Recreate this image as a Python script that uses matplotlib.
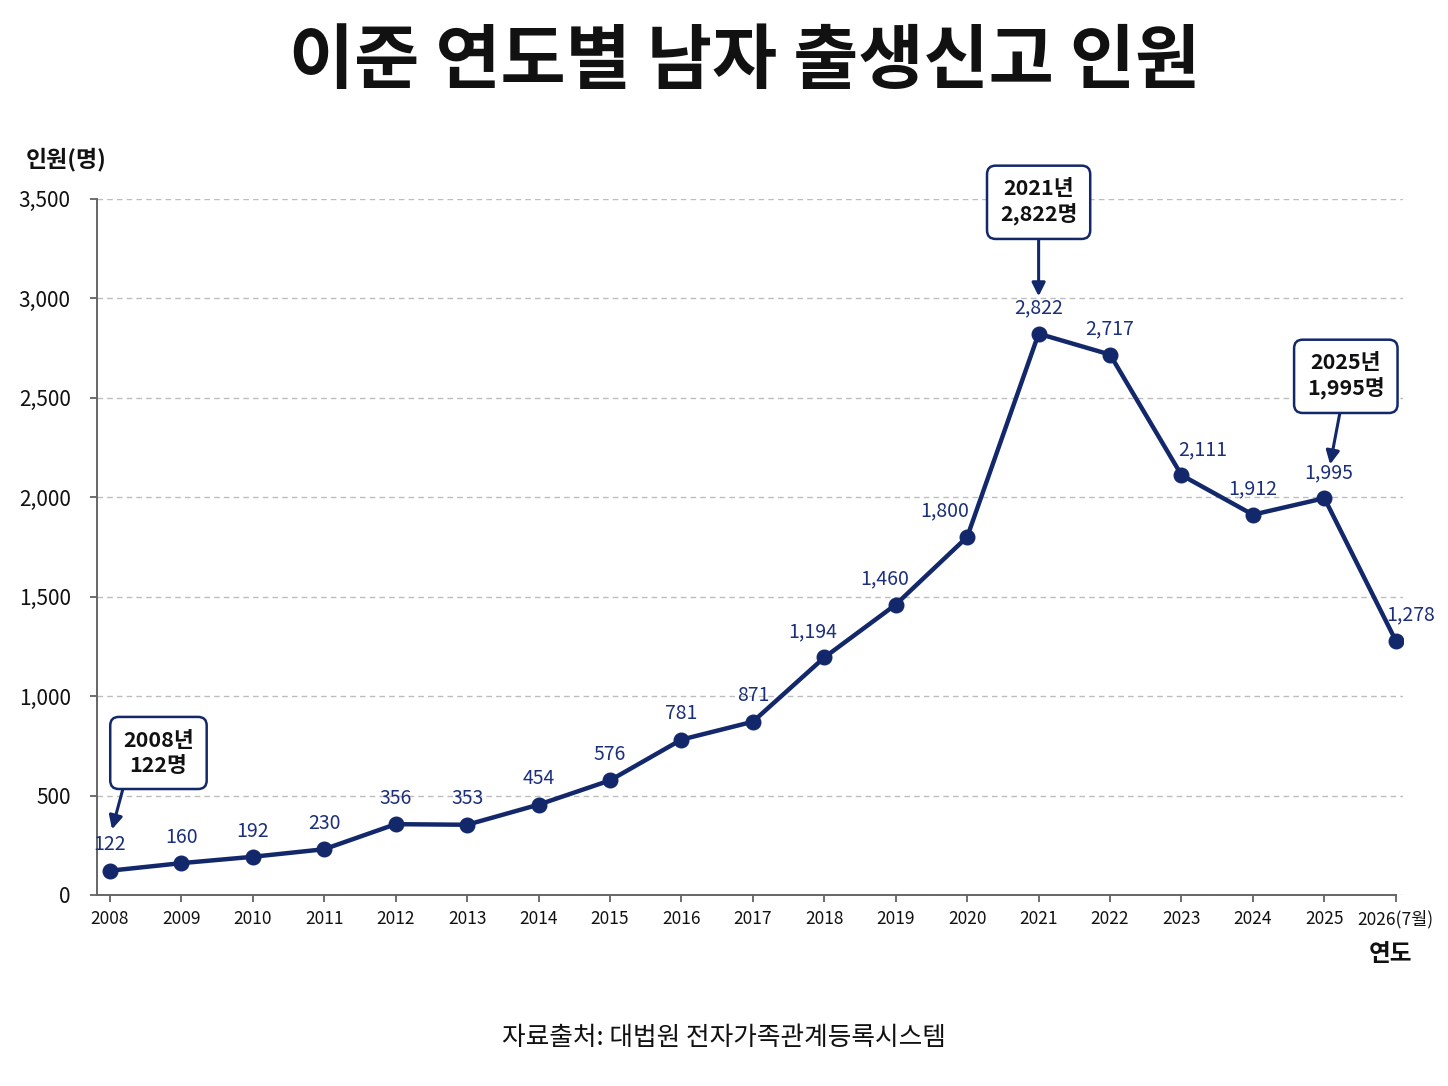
import matplotlib
matplotlib.use("Agg")
import matplotlib.pyplot as plt

plt.rcParams['font.family'] = ['Noto Sans CJK KR', 'DejaVu Sans']

years = ["2008", "2009", "2010", "2011", "2012", "2013", "2014", "2015", "2016",
         "2017", "2018", "2019", "2020", "2021", "2022", "2023", "2024", "2025", "2026(7월)"]
values = [122, 160, 192, 230, 356, 353, 454, 576, 781, 871, 1194, 1460, 1800,
          2822, 2717, 2111, 1912, 1995, 1278]
yticks = [0, 500, 1000, 1500, 2000, 2500, 3000, 3500]
callouts = [(0, "2008년\n122명"), (13, "2021년\n2,822명"), (17, "2025년\n1,995명")]

NAVY = "#13286b"
LABEL = "#1b2f7a"

fig = plt.figure(figsize=(14.48, 10.86), dpi=100)
ax = fig.add_axes([0.067, 0.1759, 0.9019, 0.641])

x = list(range(len(years)))
ax.plot(x, values, color=NAVY, lw=3.2, marker='o', ms=10.5, zorder=3)

ax.set_xlim(-0.18, len(years) - 1 + 0.1)
ax.set_ylim(0, 3500)
ax.set_xticks(x)
ax.set_xticklabels(years, fontsize=12.5)
ax.set_yticks(yticks)
ax.set_yticklabels([f"{v:,}" for v in yticks], fontsize=15)
ax.tick_params(axis='both', colors='#555555', labelcolor='#111111', length=5, width=1.2)
ax.tick_params(axis='x', pad=6)
ax.tick_params(axis='y', pad=14)

for s in ['top', 'right']:
    ax.spines[s].set_visible(False)
for s in ['left', 'bottom']:
    ax.spines[s].set_color('#666666')
    ax.spines[s].set_linewidth(1.4)
ax.spines['bottom'].set_bounds(-0.18, len(years) - 1)

ax.yaxis.grid(True, linestyle=(0, (4, 3)), color='#bdbdbd', lw=1.0)
ax.set_axisbelow(True)

# data labels (horizontal nudges in points to avoid the line)
nudge = {10: -8, 11: -8, 12: -16, 15: 15, 17: 3, 18: 11}
for i, v in enumerate(values):
    dx = nudge.get(i, 0)
    ax.annotate(f"{v:,}", (i, v), xytext=(dx, 11), textcoords='offset points',
                ha='center', va='bottom', fontsize=14, fontweight='medium',
                color=LABEL, zorder=4)

# callout boxes: (box x offset, box y, arrow start x offset, arrow start y, tip x offset, tip y)
box_specs = {0: (0.68, 714, 0.18, 530, 0.03, 330),
             13: (0.0, 3484, 0.0, 3300, 0.0, 3010),
             17: (0.3, 2609, 0.22, 2430, 0.08, 2165)}
for i, txt in callouts:
    bx, by, sx, sy, tx, ty = box_specs[i]
    ax.text(i + bx, by, txt, ha='center', va='center', fontsize=15.5, fontweight='bold',
            color='#111111', linespacing=1.25, zorder=6, clip_on=False,
            bbox=dict(boxstyle='round,pad=0.6,rounding_size=0.4', fc='white',
                      ec=NAVY, lw=1.8))
    ax.annotate("", xy=(i + tx, ty), xytext=(i + sx, sy),
                arrowprops=dict(arrowstyle='-|>,head_length=0.8,head_width=0.4', color=NAVY,
                                lw=2.2, shrinkA=0, shrinkB=0), zorder=5)

fig.text(0.514, 0.943, "이준 연도별 남자 출생신고 인원", ha='center', va='center',
         fontsize=51, fontweight='heavy', color='#111111')
fig.text(0.0455, 0.853, "인원(명)", ha='center', va='center', fontsize=16.5, fontweight='bold',
         color='#111111')
fig.text(0.96, 0.122, "연도", ha='center', va='center', fontsize=17, fontweight='bold',
         color='#111111')
fig.text(0.5, 0.044, "자료출처: 대법원 전자가족관계등록시스템", ha='center', va='center',
         fontsize=18.5, fontweight='medium', color='#111111')

fig.savefig("out.png", dpi=100, facecolor='white')
